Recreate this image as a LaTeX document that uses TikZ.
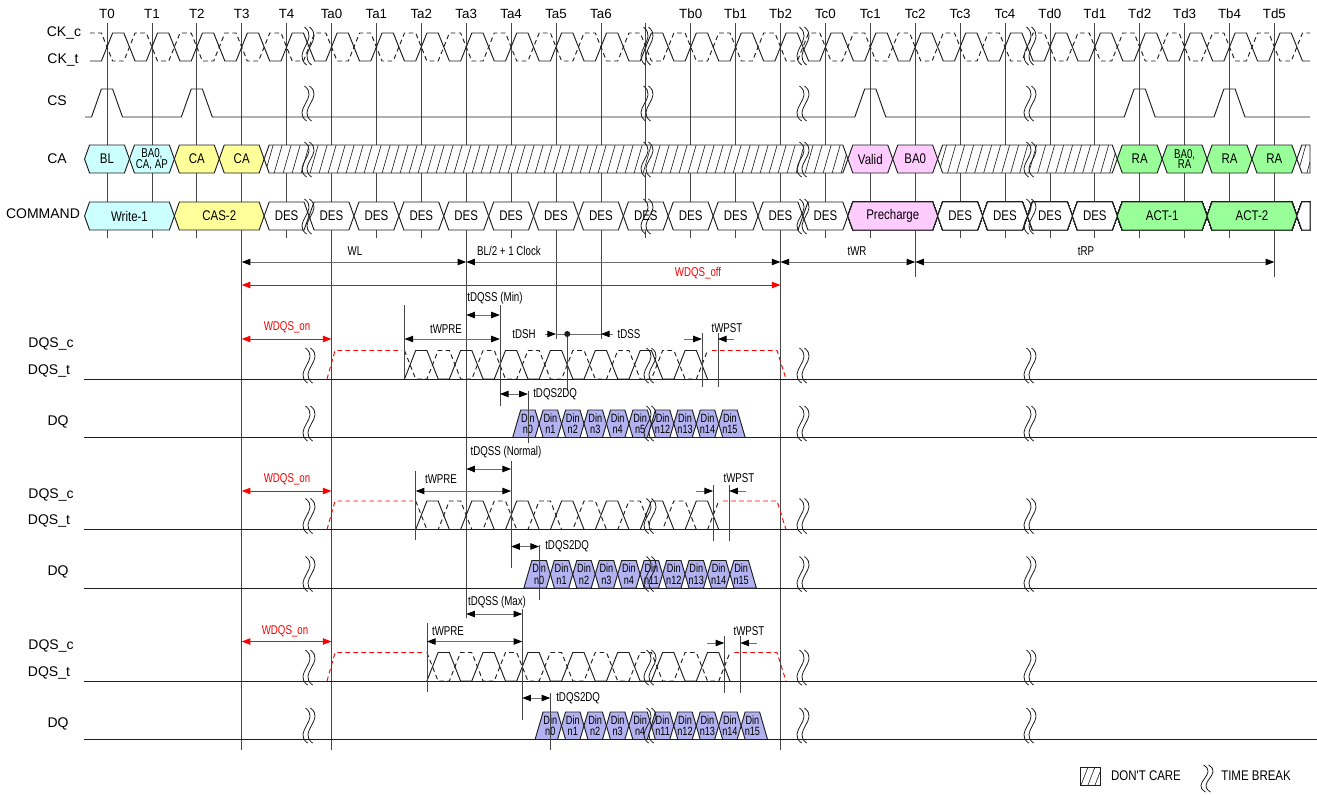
\documentclass[tikz,border=0pt]{standalone}
\usepackage{fontspec}
\setmainfont{Liberation Sans}
\newfontfamily\narfont{Liberation Sans}[FakeStretch=0.82]
\newfontfamily\tallfont{Liberation Sans}[FakeStretch=0.76]
\usetikzlibrary{arrows.meta}
\definecolor{cyanc}{RGB}{204,255,255}
\definecolor{yelc}{RGB}{255,255,153}
\definecolor{pinkc}{RGB}{255,204,255}
\definecolor{grnc}{RGB}{153,255,153}
\definecolor{dinc}{RGB}{178,178,240}
\definecolor{sigc}{RGB}{30,30,30}
\definecolor{gridc}{RGB}{70,70,70}
\definecolor{dimc}{RGB}{110,110,110}
\pgfmathdeclarefunction{tk}{1}{\pgfmathparse{107+44.9*#1}}
\tikzset{
 sigl/.style={draw=sigc,line width=0.7pt},
 dashw/.style={dash pattern=on 3.5pt off 2.5pt},
 gridl/.style={draw=gridc,line width=0.6pt},
 cellb/.style={draw=sigc,line width=0.7pt},
 hatchl/.style={draw=sigc,line width=0.45pt},
 brk/.style={draw=sigc,line width=0.6pt},
 tipk/.tip={Triangle[length=6.5pt,width=4.8pt,color=black,fill=black]},
 tipr/.tip={Triangle[length=6.5pt,width=4.8pt,color=red,fill=red]},
 dimb/.style={draw=dimc,line width=0.7pt,tipk-tipk},
 dimone/.style={draw=dimc,line width=0.7pt,-tipk},
 dimr/.style={draw=red,line width=0.7pt,tipr-tipr},
 siglbl/.style={font=\fontsize{10.5}{12}\selectfont,inner sep=0pt},
 tlbl/.style={font=\fontsize{10}{11}\selectfont,inner sep=0pt},
 celltxt/.style={font=\narfont\fontsize{10.5}{12}\selectfont,inner sep=0pt},
 twotxt/.style={font=\tallfont\fontsize{9.6}{8.2}\selectfont,inner sep=0pt,align=center},
 dintxt/.style={font=\tallfont\fontsize{9}{8.6}\selectfont,inner sep=0pt,align=center},
 timtxt/.style={font=\tallfont\fontsize{9.6}{10}\selectfont,inner sep=0pt},
 redtxt/.style={timtxt,text=red},
}
% hexagonal bus cell: name, L, R, ymid, half height, fill, text style, text
\newcommand\cellhex[8]{%
 \draw[cellb,fill=#6] ({#2},{#4}) -- ({(#2)+5},{(#4)-(#5)}) -- ({(#3)-5},{(#4)-(#5)}) -- ({#3},{#4}) -- ({(#3)-5},{(#4)+(#5)}) -- ({(#2)+5},{(#4)+(#5)}) -- cycle;
 \node[#7] (#1) at ({((#2)+(#3))/2},{#4}) {#8};}
% hatched (don't care) cell: name, L, R, ymid, half height
\newcommand\hatchhex[5]{%
 \fill[white] ({#2},{#4}) -- ({(#2)+5},{(#4)-(#5)}) -- ({(#3)-5},{(#4)-(#5)}) -- ({#3},{#4}) -- ({(#3)-5},{(#4)+(#5)}) -- ({(#2)+5},{(#4)+(#5)}) -- cycle;
 \begin{scope}
  \clip ({#2},{#4}) -- ({(#2)+5},{(#4)-(#5)}) -- ({(#3)-5},{(#4)-(#5)}) -- ({#3},{#4}) -- ({(#3)-5},{(#4)+(#5)}) -- ({(#2)+5},{(#4)+(#5)}) -- cycle;
  \foreach \hi in {0,...,68} \draw[hatchl] ({(#2)-8+9*\hi},{(#4)+(#5)}) -- ++(8,{-2*(#5)});
 \end{scope}
 \draw[cellb] ({#2},{#4}) -- ({(#2)+5},{(#4)-(#5)}) -- ({(#3)-5},{(#4)-(#5)}) -- ({#3},{#4}) -- ({(#3)-5},{(#4)+(#5)}) -- ({(#2)+5},{(#4)+(#5)}) -- cycle;
 \coordinate (#1) at ({((#2)+(#3))/2},{#4});}
% time break: x, ytop, ybottom
\newcommand\tbreak[3]{%
 \foreach \bo in {-2.5,2.5}
  \draw[brk] ({(#1)+\bo-1},{#2}) .. controls ({(#1)+\bo+14},{(#2)+0.33*((#3)-(#2))}) and ({(#1)+\bo-14},{(#2)+0.67*((#3)-(#2))}) .. ({(#1)+\bo+1},{#3});}
% DQS waveform: y0 (low level), x of first DQS edge after preamble
\newcommand\mywave[2]{%
 \draw[sigl] ({(#2)-95.4},{#1}) \foreach \m in {0,...,6}{ -- ({(#2)-95.4+44.9*\m},{#1}) -- ({(#2)-84.2+44.9*\m},{(#1)-28.5}) -- ({(#2)-72.95+44.9*\m},{(#1)-28.5}) -- ({(#2)-61.75+44.9*\m},{#1}) };
 \draw[sigl,dashw] ({(#2)-95.4},{(#1)-28.5}) \foreach \m in {0,...,6}{ -- ({(#2)-95.4+44.9*\m},{(#1)-28.5}) -- ({(#2)-84.2+44.9*\m},{#1}) -- ({(#2)-72.95+44.9*\m},{#1}) -- ({(#2)-61.75+44.9*\m},{(#1)-28.5}) };
 \draw[draw=red,line width=0.7pt,dashw] (327,{#1}) -- (335,{(#1)-28.5}) -- ({(#2)-98.4},{(#1)-28.5});
 \draw[draw=red,line width=0.7pt,dashw] ({(#2)+212},{(#1)-28.5}) -- (777,{(#1)-28.5}) -- (786,{#1});}
% DQ data cells: y0, centre of first cell, labels, row id
\newcommand\dqrow[4]{%
 \foreach \lab [count=\ci from 0] in {#3}{%
  \pgfmathsetmacro\cx{(#2)+22.45*\ci}%
  \pgfmathsetmacro\cl{\cx-11.225}%
  \pgfmathsetmacro\cR{\cx+11.225}%
  \ifnum\ci=0
   \draw[cellb,fill=dinc] ({\cl-4},{(#1)+58.5}) -- ({\cl+4},{(#1)+31}) -- ({\cR-4},{(#1)+31}) -- ({\cR},{(#1)+44.75}) -- ({\cR-4},{(#1)+58.5}) -- cycle;
  \else\ifnum\ci=9
   \draw[cellb,fill=dinc] ({\cl},{(#1)+44.75}) -- ({\cl+4},{(#1)+31}) -- ({\cR-4},{(#1)+31}) -- ({\cR+4},{(#1)+58.5}) -- ({\cl+4},{(#1)+58.5}) -- cycle;
  \else
   \draw[cellb,fill=dinc] ({\cl},{(#1)+44.75}) -- ({\cl+4},{(#1)+31}) -- ({\cR-4},{(#1)+31}) -- ({\cR},{(#1)+44.75}) -- ({\cR-4},{(#1)+58.5}) -- ({\cl+4},{(#1)+58.5}) -- cycle;
  \fi\fi
  \node[dintxt] (din#4n\ci) at ({\cx},{(#1)+44.5}) {Din\\\lab};
 }}
\begin{document}
\begin{tikzpicture}[x=0.75pt,y=-0.75pt]
\useasboundingbox (0,0) rectangle (1317,794);
\fill[white] (0,0) rectangle (1317,794);

% ---------- grid lines ----------
\foreach \k in {0,...,26} \draw[gridl] ({tk(\k)},23) -- ({tk(\k)},238);
\foreach \k/\yb in {3/750,5/750,8/618,10/339,11/339,15/750,18/277,26/277}
  \draw[gridl] ({tk(\k)},238) -- ({tk(\k)},\yb);

% ---------- clock labels ----------
\foreach \k/\t in {0/T0,1/T1,2/T2,3/T3,4/T4,5/Ta0,6/Ta1,7/Ta2,8/Ta3,9/Ta4,10/Ta5,11/Ta6,13/Tb0,14/Tb1,15/Tb2,16/Tc0,17/Tc1,18/Tc2,19/Tc3,20/Tc4,21/Td0,22/Td1,23/Td2,24/Td3,25/Tb4,26/Td5}
  \node[tlbl] (tl\k) at ({tk(\k)},14) {\t};

% ---------- signal names ----------
\node[siglbl] (nckc) at (64,33) {CK\_c};
\node[siglbl] (nckt) at (63,60) {CK\_t};
\node[siglbl] (ncs) at (57,101) {CS};
\node[siglbl] (nca) at (57,159) {CA};
\node[siglbl] (ncmd) at (43,214) {COMMAND};
\foreach \r/\yo in {1/379,2/529.5,3/681}{
  \node[siglbl] (ndqsc\r) at (51,{\yo-35}) {DQS\_c};
  \node[siglbl] (ndqst\r) at (49,{\yo-8.5}) {DQS\_t};
  \node[siglbl] (ndq\r) at (58,{\yo+42.5}) {DQ};
}

% ---------- clock ----------
\draw[sigl] (90,61) \foreach \k in {0,...,26}{ -- ({tk(\k)-5.6},61) -- ({tk(\k)+5.6},33) -- ({tk(\k)+16.85},33) -- ({tk(\k)+28.05},61) } -- (1310,61);
\draw[sigl,dashw] (90,33) \foreach \k in {0,...,26}{ -- ({tk(\k)-5.6},33) -- ({tk(\k)+5.6},61) -- ({tk(\k)+16.85},61) -- ({tk(\k)+28.05},33) } -- (1310,33);

% ---------- CS ----------
\draw[sigl] (85,117) \foreach \k in {0,2,17,23,25}{ -- ({tk(\k)-15.5},117) -- ({tk(\k)-5.6},89) -- ({tk(\k)+5.6},89) -- ({tk(\k)+15.5},117) } -- (1310,117);

% ---------- CA ----------
\cellhex{caBL}{tk(0)-22.45}{tk(0)+22.45}{159}{14}{cyanc}{celltxt}{BL}
\cellhex{caBA}{tk(1)-22.45}{tk(1)+22.45}{159}{14}{cyanc}{twotxt}{BA0,\\CA, AP}
\cellhex{caCAa}{tk(2)-22.45}{tk(2)+22.45}{159}{14}{yelc}{celltxt}{CA}
\cellhex{caCAb}{tk(3)-22.45}{tk(3)+22.45}{159}{14}{yelc}{celltxt}{CA}
\hatchhex{caXa}{tk(4)-22.45}{tk(17)-22.45}{159}{14}
\cellhex{caVal}{tk(17)-22.45}{tk(17)+22.45}{159}{14}{pinkc}{celltxt}{Valid}
\cellhex{caBAb}{tk(18)-22.45}{tk(18)+22.45}{159}{14}{pinkc}{celltxt}{BA0}
\hatchhex{caXb}{tk(18)+22.45}{tk(23)-22.45}{159}{14}
\cellhex{caRAa}{tk(23)-22.45}{tk(23)+22.45}{159}{14}{grnc}{celltxt}{RA}
\cellhex{caBAc}{tk(24)-22.45}{tk(24)+22.45}{159}{14}{grnc}{twotxt}{BA0,\\RA}
\cellhex{caRAb}{tk(25)-22.45}{tk(25)+22.45}{159}{14}{grnc}{celltxt}{RA}
\cellhex{caRAc}{tk(26)-22.45}{tk(26)+22.45}{159}{14}{grnc}{celltxt}{RA}
\begin{scope}
 \clip ({tk(26)+22.45},159) -- ({tk(26)+27.45},145) -- (1310,145) -- (1310,173) -- ({tk(26)+27.45},173) -- cycle;
 \foreach \hi in {0,...,3} \draw[hatchl] ({tk(26)+14.45+9*\hi},173) -- ++(8,-28);
\end{scope}
\draw[cellb] ({tk(26)+22.45},159) -- ({tk(26)+27.45},145) -- (1310,145) -- (1310,173) -- ({tk(26)+27.45},173) -- cycle;

% ---------- COMMAND ----------
\cellhex{cmW}{tk(0)-22.45}{tk(1)+22.45}{216}{14}{cyanc}{celltxt}{Write-1}
\cellhex{cmC}{tk(2)-22.45}{tk(3)+22.45}{216}{14}{yelc}{celltxt}{CAS-2}
\foreach \k in {4,...,16}
  \cellhex{cmd\k}{tk(\k)-22.45}{tk(\k)+22.45}{216}{14}{white}{celltxt}{DES}
\cellhex{cmP}{tk(17)-22.45}{tk(18)+22.45}{216}{14}{pinkc}{celltxt}{Precharge}
\foreach \k in {19,...,22}
  \cellhex{cmd\k}{tk(\k)-22.45}{tk(\k)+22.45}{216}{14}{white}{celltxt}{DES}
\cellhex{cmA}{tk(23)-22.45}{tk(24)+22.45}{216}{14}{grnc}{celltxt}{ACT-1}
\cellhex{cmB}{tk(25)-22.45}{tk(26)+22.45}{216}{14}{grnc}{celltxt}{ACT-2}
\draw[cellb,fill=white] ({tk(26)+22.45},216) -- ({tk(26)+27.45},202) -- (1310,202) -- (1310,230) -- ({tk(26)+27.45},230) -- cycle;

% ---------- top timing ----------
\draw[dimb] ({tk(3)},262) -- ({tk(8)},262);
\node[timtxt] (nwl) at (355,251) {WL};
\draw[dimb] ({tk(8)},262) -- ({tk(15)},262);
\node[timtxt] (nbl) at (509,251) {BL/2 + 1 Clock};
\draw[dimb] ({tk(15)},262) -- ({tk(18)},262);
\node[timtxt] (ntwr) at (857,251) {tWR};
\draw[dimb] ({tk(18)},262) -- ({tk(26)},262);
\node[timtxt] (ntrp) at (1086,251) {tRP};
\draw[dimr] ({tk(3)},285) -- ({tk(15)},285);
\node[redtxt] (nwoff) at (698,273) {WDQS\_off};

% ---------- DQS / DQ baselines and waves ----------
\foreach \yo in {379,529.5,681}{
  \draw[sigl] (84,\yo) -- (1317,\yo);
  \draw[sigl] (84,{\yo+58.5}) -- (1317,{\yo+58.5});
}
\mywave{379}{499.9}
\mywave{529.5}{511.1}
\mywave{681}{522.3}
\dqrow{379}{527.9}{n0,n1,n2,n3,n4,n5,n12,n13,n14,n15}{a}
\dqrow{529.5}{539.1}{n0,n1,n2,n3,n4,n11,n12,n13,n14,n15}{b}
\dqrow{681}{550.3}{n0,n1,n2,n3,n4,n11,n12,n13,n14,n15}{c}

% ---------- row 1 annotations ----------
\draw[gridl] (499.9,305) -- (499.9,406);
\draw[gridl] (404.5,305) -- (404.5,378);
\draw[gridl] (527.9,391) -- (527.9,443);
\draw[gridl] (567.25,334) -- (567.25,391);
\draw[gridl] (701.9,333) -- (701.9,387);
\draw[gridl] (717.9,333) -- (717.9,387);
\draw[dimb] ({tk(8)},315) -- (499.9,315);
\node[timtxt] (nq1) at (495,298) {tDQSS (Min)};
\draw[dimr] ({tk(3)},339) -- ({tk(5)},339);
\node[redtxt] (nwon1) at (287,327) {WDQS\_on};
\draw[dimb] (404.5,339) -- (499.9,339);
\node[timtxt] (npre1) at (446,329) {tWPRE};
\node[timtxt] (ndsh) at (524,334) {tDSH};
\draw[dimone] (545,334) -- ({tk(10)},334);
\draw[draw=dimc,line width=0.7pt] ({tk(10)},334) -- ({tk(11)},334);
\draw[dimone] (613,334) -- ({tk(11)},334);
\node[timtxt] (ndss) at (629,334) {tDSS};
\node[circle,fill=sigc,inner sep=0pt,minimum size=4.5pt] (ndot) at (567.25,334) {};
\draw[dimone] (684,339) -- (701.9,339);
\draw[dimone] (734,339) -- (717.9,339);
\node[timtxt] (npst1) at (727,328) {tWPST};
\draw[dimb] (499.9,394) -- (527.9,394);
\node[timtxt,anchor=west] (n2dq1) at (533,394) {tDQS2DQ};

% ---------- row 2 annotations ----------
\draw[gridl] (511.1,461) -- (511.1,568);
\draw[gridl] (415.7,471) -- (415.7,540);
\draw[gridl] (539.1,545) -- (539.1,600);
\draw[gridl] (713.1,485) -- (713.1,541);
\draw[gridl] (729.1,485) -- (729.1,541);
\draw[dimb] ({tk(8)},469) -- (511.1,469);
\node[timtxt] (nq2) at (506,452.5) {tDQSS (Normal)};
\draw[dimr] ({tk(3)},491) -- ({tk(5)},491);
\node[redtxt] (nwon2) at (287,479) {WDQS\_on};
\draw[dimb] (415.7,491) -- (511.1,491);
\node[timtxt] (npre2) at (441,479) {tWPRE};
\draw[dimone] (696,491) -- (713.1,491);
\draw[dimone] (746,491) -- (729.1,491);
\node[timtxt] (npst2) at (739,478) {tWPST};
\draw[dimb] (511.1,546.5) -- (539.1,546.5);
\node[timtxt,anchor=west] (n2dq2) at (545,546.5) {tDQS2DQ};

% ---------- row 3 annotations ----------
\draw[gridl] (522.3,609) -- (522.3,720);
\draw[gridl] (426.9,623) -- (426.9,692);
\draw[gridl] (550.3,693) -- (550.3,750);
\draw[gridl] (724.3,636) -- (724.3,693);
\draw[gridl] (740.3,636) -- (740.3,693);
\draw[dimb] ({tk(8)},614) -- (522.3,614);
\node[timtxt] (nq3) at (497,602.5) {tDQSS (Max)};
\draw[dimr] ({tk(3)},641.5) -- ({tk(5)},641.5);
\node[redtxt] (nwon3) at (285,631.5) {WDQS\_on};
\draw[dimb] (426.9,641.5) -- (522.3,641.5);
\node[timtxt] (npre3) at (448,631.5) {tWPRE};
\draw[dimone] (707,643) -- (724.3,643);
\draw[dimone] (757,643) -- (740.3,643);
\node[timtxt] (npst3) at (749,631.5) {tWPST};
\draw[dimb] (522.3,698) -- (550.3,698);
\node[timtxt,anchor=west] (n2dq3) at (556,698) {tDQS2DQ};

% ---------- time breaks ----------
\foreach \bx in {308,647,803,1030}{
  \tbreak{\bx}{27}{65}
  \tbreak{\bx}{86}{121}
  \tbreak{\bx}{142}{177}
  \tbreak{\bx}{199}{234}
}
\foreach \yo in {379,529.5,681}{
  \foreach \bx in {309,650,803,1030}{
    \tbreak{\bx}{\yo-31}{\yo+4}
    \tbreak{\bx}{\yo+27}{\yo+62}
  }
}

% ---------- legend ----------
\begin{scope}
 \clip (1080,767) rectangle (1100,785);
 \foreach \hi in {0,...,3} \draw[hatchl] ({1074+7*\hi},785) -- ++(7,-18);
\end{scope}
\draw[cellb] (1080,767) rectangle (1100,785);
\node[celltxt] (ndc) at (1146,776) {DON{\char39}T CARE};
\tbreak{1207}{765}{792}
\node[celltxt] (ntb) at (1256,776) {TIME BREAK};
\end{tikzpicture}
\end{document}
